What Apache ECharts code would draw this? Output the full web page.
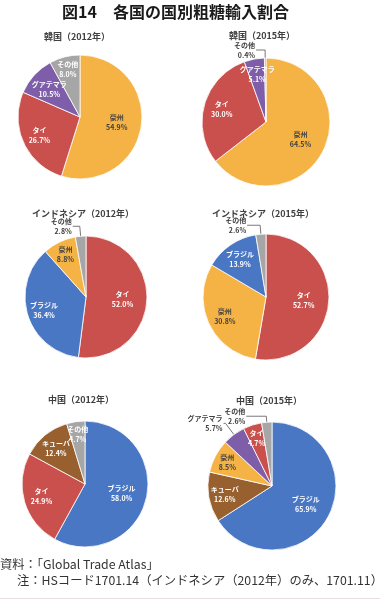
<!DOCTYPE html>
<html><head><meta charset="utf-8">
<script src="https://cdn.jsdelivr.net/npm/echarts@6/dist/echarts.min.js"></script>
<style>html,body{margin:0;padding:0;background:#fff}#c{width:380px;height:609px}</style>
</head><body><div id="c"></div>
<script>
// ---- data ----
const chartTitles = ['韓国（2012年）','韓国（2015年）','インドネシア（2012年）','インドネシア（2015年）','中国（2012年）','中国（2015年）'];
const korea2012Names = ['豪州','タイ','グアテマラ','その他'];
const korea2012Values = [54.9, 26.7, 10.5, 8.0];
const korea2015Names = ['豪州','タイ','グアテマラ','その他'];
const korea2015Values = [64.5, 30.0, 5.1, 0.4];
const indonesia2012Names = ['タイ','ブラジル','豪州','その他'];
const indonesia2012Values = [52.0, 36.4, 8.8, 2.8];
const indonesia2015Names = ['タイ','豪州','ブラジル','その他'];
const indonesia2015Values = [52.7, 30.8, 13.9, 2.6];
const china2012Names = ['ブラジル','タイ','キューバ','その他'];
const china2012Values = [58.0, 24.9, 12.4, 4.7];
const china2015Names = ['ブラジル','キューバ','豪州','グアテマラ','タイ','その他'];
const china2015Values = [65.9, 12.6, 8.5, 5.7, 4.7, 2.6];
const mainTitle = '図14　各国の国別粗糖輸入割合';
const sourceNote = '資料：「Global Trade Atlas」';
const footNote = '注：HSコード1701.14（インドネシア（2012年）のみ、1701.11）';

// ---- style / layout ----
const FONT = '"Noto Sans CJK JP","Noto Sans",sans-serif';
const colorOf = {'豪州':'#F5B346','タイ':'#C9504C','グアテマラ':'#7E5EA8','その他':'#A6A6A6','ブラジル':'#4A77C4','キューバ':'#97602E'};
const darkLabel = {'豪州':true};
// outside labels: name -> [leader length, leader length2]
const pies = [
  {names:korea2012Names, values:korea2012Values, cx:80, cy:117, r:62, tx:77, ty:37, outside:{}},
  {names:korea2015Names, values:korea2015Values, cx:266, cy:122, r:64, tx:262, ty:36, outside:{'その他':[8,9]}},
  {names:indonesia2012Names, values:indonesia2012Values, cx:86, cy:297, r:61, tx:83, ty:214, outside:{'その他':[10,7]}},
  {names:indonesia2015Names, values:indonesia2015Values, cx:266, cy:297, r:63, tx:263, ty:214, outside:{'その他':[9,13]}},
  {names:china2012Names, values:china2012Values, cx:85, cy:484, r:63, tx:81, ty:400, outside:{}},
  {names:china2015Names, values:china2015Values, cx:272, cy:486, r:64, tx:269, ty:401, outside:{'グアテマラ':[14,2],'その他':[6,20]}}
];

function insideFits(cx, cy, w, h, r) {
  const xs = [cx - w / 2, cx + w / 2], ys = [cy - h / 2, cy + h / 2];
  for (const x of xs) for (const y of ys) if (Math.hypot(x, y) > r * 1.0) return false;
  return true;
}

const series = pies.map((p, si) => ({
  type:'pie',
  center:[p.cx, p.cy],
  radius:[0, p.r],
  startAngle:90,
  clockwise:true,
  avoidLabelOverlap:false,
  animation:false,
  itemStyle:{borderColor:'#ffffff', borderWidth:0.8},
  label:{
    show:true, position:'inside', fontFamily:FONT, fontSize:7, fontWeight:'bold', lineHeight:10,
    formatter: d => d.name + '\n' + d.value.toFixed(1) + '%'
  },
  labelLine:{show:false},
  emphasis:{disabled:true},
  data: p.names.map((n, i) => {
    const out = p.outside[n];
    const item = {name:n, value:p.values[i], itemStyle:{color:colorOf[n]},
      label:{color: (out || darkLabel[n]) ? '#404040' : '#ffffff'}};
    if (out) {
      item.label.position = 'outside';
      item.label.align = 'right';
      item.label.distanceToLabelLine = 1;
      item.labelLine = {show:true, length: out[0], length2: out[1], smooth:false,
        lineStyle:{color:'#555', width:0.8}};
    }
    return item;
  }),
  labelLayout: function (params) {
    const name = p.names[params.dataIndex];
    if (p.outside[name]) return {};
    const v = p.values[params.dataIndex];
    let k = v >= 50 ? 0.6 : (v < 15 ? 0.79 : 0.72);
    const lr = params.labelRect;
    const lx = lr.x + lr.width / 2, ly = lr.y + lr.height / 2;
    const ddx = lx - p.cx, ddy = ly - p.cy;
    const d = Math.hypot(ddx, ddy) || 1;
    const ux = ddx / d, uy = ddy / d;
    while (k > 0.5 && !insideFits(ux * k * p.r, uy * k * p.r, lr.width, lr.height, p.r)) k -= 0.02;
    const t = k * p.r;
    return {dx: ux * (t - d), dy: uy * (t - d)};
  }
}));

const graphics = [
  {type:'text', x:62, y:12, style:{text:mainTitle, font:'bold 16px ' + FONT, fill:'#1a1a1a', textAlign:'left', textVerticalAlign:'middle'}},
  ...pies.map((p, i) => ({type:'text', x:p.tx, y:p.ty,
    style:{text:chartTitles[i], font:'bold 9px ' + FONT, fill:'#404040', textAlign:'center', textVerticalAlign:'middle'}})),
  {type:'text', x:0, y:564, style:{text:sourceNote, font:'12.3px ' + FONT, fill:'#333', textAlign:'left', textVerticalAlign:'middle'}},
  {type:'text', x:17, y:580, style:{text:footNote, font:'12.3px ' + FONT, fill:'#333', textAlign:'left', textVerticalAlign:'middle'}},
  {type:'rect', shape:{x:0, y:598, width:380, height:1}, style:{fill:'#eadde0'}}
];

const chart = echarts.init(document.getElementById('c'), null, {renderer:'canvas'});
chart.setOption({animation:false, series, graphic:graphics});
</script></body></html>
